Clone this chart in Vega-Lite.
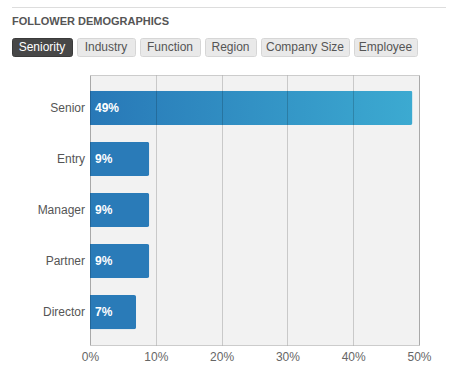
{
  "$schema": "https://vega.github.io/schema/vega-lite/v6.json",
  "padding": {"left": 11, "top": 7, "right": 8, "bottom": 0},
  "background": "white",
  "config": {"font": "Liberation Sans", "view": {"stroke": null}},
  "datasets": {
    "seniority": [
      {"level": "Senior", "share": 0.49},
      {"level": "Entry", "share": 0.09},
      {"level": "Manager", "share": 0.09},
      {"level": "Partner", "share": 0.09},
      {"level": "Director", "share": 0.07}
    ]
  },
  "spacing": 17,
  "vconcat": [
    {
      "spacing": 7,
      "vconcat": [
        {
          "width": 434, "height": 1,
          "data": {"values": [{"t": "rule"}]},
          "mark": {"type": "rect", "color": "#dddddd"},
          "encoding": {}
        },
        {
          "title": {"text": "FOLLOWER DEMOGRAPHICS", "anchor": "start", "fontSize": 11, "fontWeight": "bold", "color": "#555555", "offset": 11, "frame": "group"},
          "spacing": 3,
          "hconcat": [
            {"width": 60, "height": 18, "view": {"fill": "#474747", "stroke": "#3a3a3a", "cornerRadius": 2},
             "data": {"values": [{"tab": "Seniority"}]},
             "mark": {"type": "text", "fontSize": 12, "color": "#ffffff", "baseline": "middle"},
             "encoding": {"text": {"field": "tab"}}},
            {"width": 58, "height": 18, "view": {"fill": "#e9e9e9", "stroke": "#d6d6d6", "cornerRadius": 2},
             "data": {"values": [{"tab": "Industry"}]},
             "mark": {"type": "text", "fontSize": 12, "color": "#555555", "baseline": "middle"},
             "encoding": {"text": {"field": "tab"}}},
            {"width": 60, "height": 18, "view": {"fill": "#e9e9e9", "stroke": "#d6d6d6", "cornerRadius": 2},
             "data": {"values": [{"tab": "Function"}]},
             "mark": {"type": "text", "fontSize": 12, "color": "#555555", "baseline": "middle"},
             "encoding": {"text": {"field": "tab"}}},
            {"width": 51, "height": 18, "view": {"fill": "#e9e9e9", "stroke": "#d6d6d6", "cornerRadius": 2},
             "data": {"values": [{"tab": "Region"}]},
             "mark": {"type": "text", "fontSize": 12, "color": "#555555", "baseline": "middle"},
             "encoding": {"text": {"field": "tab"}}},
            {"width": 88, "height": 18, "view": {"fill": "#e9e9e9", "stroke": "#d6d6d6", "cornerRadius": 2},
             "data": {"values": [{"tab": "Company Size"}]},
             "mark": {"type": "text", "fontSize": 12, "color": "#555555", "baseline": "middle"},
             "encoding": {"text": {"field": "tab"}}},
            {"width": 63, "height": 18, "view": {"fill": "#e9e9e9", "stroke": "#d6d6d6", "cornerRadius": 2},
             "data": {"values": [{"tab": "Employee"}]},
             "mark": {"type": "text", "fontSize": 12, "color": "#555555", "baseline": "middle"},
             "encoding": {"text": {"field": "tab"}}}
          ]
        }
      ]
    },
    {
      "spacing": 5,
      "bounds": "flush",
      "hconcat": [
        {
          "width": 73, "height": 270,
          "data": {"name": "seniority"},
          "mark": {"type": "text", "align": "right", "baseline": "middle", "fontSize": 12, "color": "#555555"},
          "encoding": {
            "y": {"field": "level", "type": "nominal",
                  "sort": ["Senior", "Entry", "Manager", "Partner", "Director"],
                  "scale": {"type": "band", "paddingInner": 0.333, "paddingOuter": 0.31},
                  "axis": null},
            "x": {"datum": 1, "type": "quantitative", "scale": {"domain": [0, 1]}, "axis": null},
            "text": {"field": "level"}
          }
        },
        {
          "width": 329, "height": 270,
          "view": {"fill": "#f2f2f2", "stroke": "#cccccc"},
          "data": {"name": "seniority"},
          "encoding": {
            "y": {"field": "level", "type": "nominal",
                  "sort": ["Senior", "Entry", "Manager", "Partner", "Director"],
                  "scale": {"type": "band", "paddingInner": 0.333, "paddingOuter": 0.31},
                  "axis": null}
          },
          "layer": [
            {
              "transform": [{"filter": "datum.level !== 'Senior'"}],
              "mark": {"type": "bar", "color": "#2a7bb8", "cornerRadiusEnd": 2},
              "encoding": {
                "x": {"field": "share", "type": "quantitative",
                      "scale": {"domain": [0, 0.5]},
                      "axis": {"title": null, "values": [0, 0.1, 0.2, 0.3, 0.4, 0.5], "format": ".0%", "grid": true, "gridColor": "#000000", "gridOpacity": 0.17, "domain": false, "ticks": false, "labelFlush": false, "labelPadding": 6, "labelFontSize": 12, "labelColor": "#666666", "zindex": 1}}
              }
            },
            {
              "transform": [{"filter": "datum.level === 'Senior'"}],
              "mark": {"type": "bar", "cornerRadiusEnd": 2,
                       "color": {"gradient": "linear", "x1": 0, "x2": 1, "y1": 0, "y2": 0,
                                 "stops": [{"offset": 0, "color": "#2878b7"}, {"offset": 1, "color": "#3caad1"}]}},
              "encoding": {"x": {"field": "share", "type": "quantitative"}}
            },
            {
              "mark": {"type": "text", "align": "left", "dx": 5, "fontWeight": "bold", "fontSize": 12, "color": "#ffffff", "baseline": "middle"},
              "encoding": {
                "x": {"datum": 0, "type": "quantitative"},
                "text": {"field": "share", "type": "quantitative", "format": ".0%"}
              }
            }
          ]
        }
      ]
    }
  ]
}
